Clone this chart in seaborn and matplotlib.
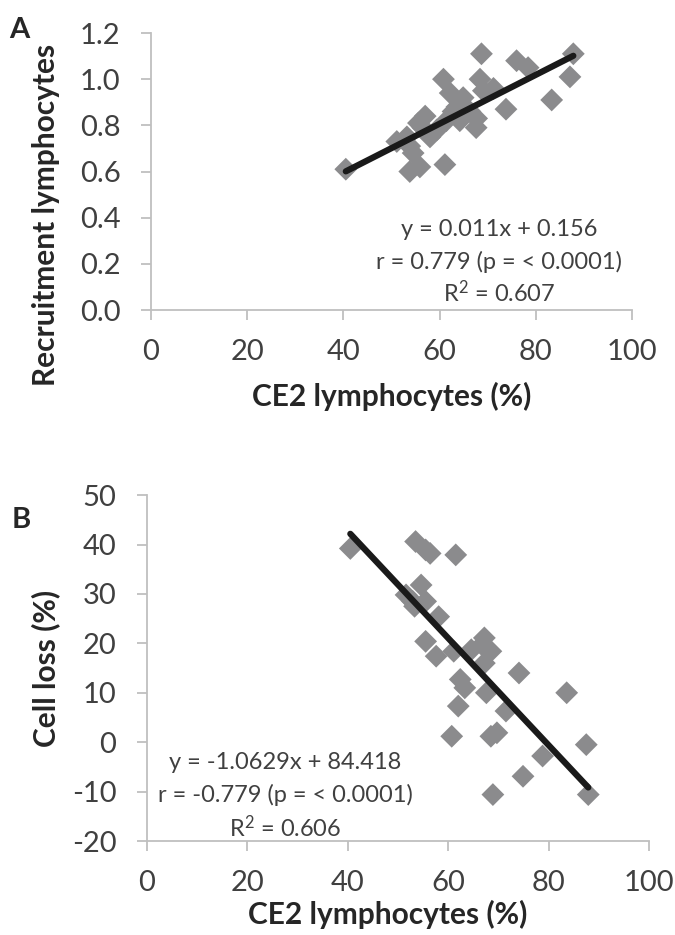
import matplotlib
matplotlib.use("Agg")
import matplotlib.pyplot as plt
import seaborn as sns
import pandas as pd

# ---- data ----
ce2_a = [40.5, 51.1, 53.2, 53.8, 53.8, 54.5, 55.6, 55.9, 57.0, 58.0, 59.4, 56.5,
         60.8, 61.1, 61.4, 62.2, 63.6, 64.2, 64.9, 66.3, 67.6, 67.7, 68.4, 68.7,
         69.1, 71.2, 73.8, 76.0, 78.4, 83.3, 87.1, 87.8, 62.8]
recruit_a = [0.61, 0.73, 0.75, 0.60, 0.71, 0.68, 0.81, 0.62, 0.84, 0.75, 0.78, 0.79,
             1.00, 0.63, 0.82, 0.94, 0.88, 0.82, 0.92, 0.86, 0.79, 0.83, 1.00, 1.11,
             0.95, 0.96, 0.87, 1.08, 1.05, 0.91, 1.01, 1.11, 0.86]

ce2_b = [40.5, 53.5, 55.5, 56.4, 61.5, 54.6, 51.6, 52.9, 55.5, 53.3, 58.1, 55.5,
         57.6, 61.1, 64.6, 67.2, 66.7, 68.5, 67.2, 62.4, 63.3, 67.6, 74.1, 83.6,
         62.0, 71.5, 60.7, 68.5, 69.7, 87.5, 78.8, 74.9, 68.9, 87.9]
cellloss_b = [39.2, 40.6, 38.9, 38.2, 37.9, 31.8, 29.8, 28.5, 28.5, 27.5, 25.4, 20.4,
              17.4, 18.4, 18.7, 21.1, 19.7, 18.4, 16.0, 12.7, 11.0, 10.0, 14.0, 10.0,
              7.3, 6.3, 1.2, 1.2, 1.9, -0.5, -2.8, -6.9, -10.6, -10.6]

xticks = [0, 20, 40, 60, 80, 100]
yticks_a = [0.0, 0.2, 0.4, 0.6, 0.8, 1.0, 1.2]
yticks_b = [-20, -10, 0, 10, 20, 30, 40, 50]

text_a = ["y = 0.011x + 0.156", "r = 0.779 (p = < 0.0001)", "R$^2$ = 0.607"]
text_b = ["y = -1.0629x + 84.418", "r = -0.779 (p = < 0.0001)", "R$^2$ = 0.606"]

xlabel = "CE2 lymphocytes (%)"
ylabel_a = "Recruitment lymphocytes"
ylabel_b = "Cell loss (%)"

# ---- style ----
sns.set_style("white")
plt.rcParams["font.family"] = ["Lato", "DejaVu Sans"]
plt.rcParams["mathtext.default"] = "regular"

GREY_PT = "#8b8b8d"
SPINE = "#bfbfbf"
TXT = "#404040"
LAB = "#262626"

fig = plt.figure(figsize=(6.75, 9.35), dpi=100)
axA = fig.add_axes([0.2237, 0.6684, 0.7126, 0.2963])
axB = fig.add_axes([0.2178, 0.1005, 0.7437, 0.370])

dfa = pd.DataFrame({"x": ce2_a, "y": recruit_a})
dfb = pd.DataFrame({"x": ce2_b, "y": cellloss_b})

for ax, df in [(axA, dfa), (axB, dfb)]:
    sns.scatterplot(data=df, x="x", y="y", ax=ax, marker="D", s=135,
                    color=GREY_PT, edgecolor="none", linewidth=0, zorder=2)
    sns.regplot(data=df, x="x", y="y", ax=ax, ci=None, scatter=False,
                line_kws=dict(color="#1a1a1a", lw=4.5, solid_capstyle="round", zorder=3))

def style(ax, yticks, yfmt, ylim, tpadx, tpady):
    ax.set_xlim(0, 100)
    ax.set_ylim(*ylim)
    ax.set_xticks(xticks)
    ax.set_xticklabels([str(v) for v in xticks])
    ax.set_yticks(yticks)
    ax.set_yticklabels([yfmt.format(v) for v in yticks])
    for s in ["top", "right"]:
        ax.spines[s].set_visible(False)
    for s in ["left", "bottom"]:
        ax.spines[s].set_color(SPINE)
        ax.spines[s].set_linewidth(1.3)
    ax.tick_params(axis="x", direction="out", length=7, width=1.3, color=SPINE,
                   labelsize=21, labelcolor=TXT, pad=tpadx, bottom=True)
    ax.tick_params(axis="y", direction="out", length=7, width=1.3, color=SPINE,
                   labelsize=21, labelcolor=TXT, pad=tpady, left=True)
    ax.grid(False)

style(axA, yticks_a, "{:.1f}", (0, 1.2), 14, 15)
style(axB, yticks_b, "{:d}", (-20, 50), 14, 15)

axA.set_xlabel(xlabel, fontsize=21.5, fontweight="bold", color=LAB)
axA.xaxis.set_label_coords(0.5, -0.26)
axA.set_ylabel(ylabel_a, fontsize=21.5, fontweight="bold", color=LAB)
axA.yaxis.set_label_coords(-0.19, 0.345)

axB.set_xlabel(xlabel, fontsize=21.5, fontweight="bold", color=LAB)
axB.xaxis.set_label_coords(0.48, -0.17)
axB.set_ylabel(ylabel_b, fontsize=21.5, fontweight="bold", color=LAB)
axB.yaxis.set_label_coords(-0.173, 0.5)

for t, yy in zip(text_a, [0.289, 0.173, 0.061]):
    axA.text(0.723, yy, t, transform=axA.transAxes, ha="center", va="center",
             fontsize=17, color=TXT)
for t, yy in zip(text_b, [0.228, 0.133, 0.038]):
    axB.text(0.275, yy, t, transform=axB.transAxes, ha="center", va="center",
             fontsize=17, color=TXT)

fig.text(0.028, 1 - 30 / 935, "A", fontsize=21, fontweight="bold", color=LAB,
         ha="center", va="center")
fig.text(0.032, 1 - 520 / 935, "B", fontsize=21, fontweight="bold", color=LAB,
         ha="center", va="center")

fig.savefig("out.png", dpi=100)
